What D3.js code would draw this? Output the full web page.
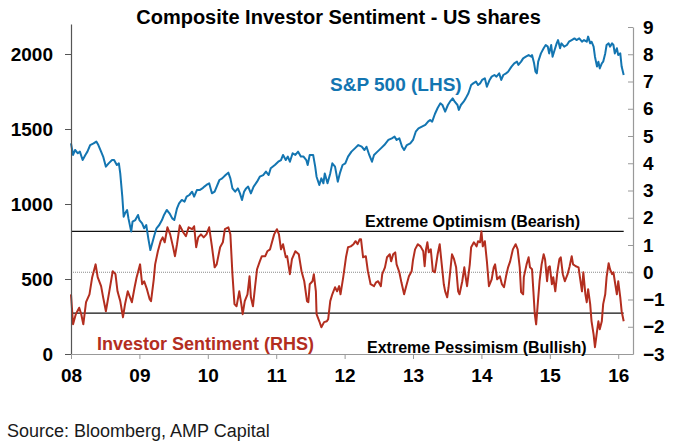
<!DOCTYPE html>
<html><head><meta charset="utf-8">
<script src="https://cdn.jsdelivr.net/npm/d3@7"></script>
<style>
body{margin:0;background:#fff;}
svg{display:block;font-family:"Liberation Sans",Arial,Helvetica,sans-serif;}
</style>
</head><body>
<svg id="chart" width="675" height="446"></svg>
<script>
// ---------- data ----------
const yearTicks = [2008, 2009, 2010, 2011, 2012, 2013, 2014, 2015, 2016];
const yearLabels = ["08", "09", "10", "11", "12", "13", "14", "15", "16"];
const leftTicks = [0, 500, 1000, 1500, 2000];
const rightTicks = [-3, -2, -1, 0, 1, 2, 3, 4, 5, 6, 7, 8, 9];
const extremeLevels = [1.5, -1.5];
const neutralLevel = 0;

// S&P 500 index level (LHS): [decimal year, value]
const spx = [
[2008.00,1404],[2008.03,1327],[2008.06,1360],[2008.10,1338],[2008.13,1349],[2008.17,1293],[2008.21,1327],[2008.24,1349],[2008.28,1393],[2008.33,1404],[2008.37,1416],[2008.40,1393],[2008.44,1349],[2008.47,1316],[2008.51,1249],[2008.55,1271],[2008.60,1293],[2008.63,1293],[2008.67,1260],[2008.70,1271],[2008.72,1204],[2008.75,1049],[2008.77,915],[2008.79,938],[2008.82,960],[2008.84,904],[2008.88,816],[2008.90,882],[2008.94,893],[2008.98,927],
[2009.00,893],[2009.04,871],[2009.07,838],[2009.10,860],[2009.13,771],[2009.16,693],[2009.18,727],[2009.22,793],[2009.25,838],[2009.29,860],[2009.33,893],[2009.36,927],[2009.40,960],[2009.44,938],[2009.48,904],[2009.51,893],[2009.55,971],[2009.58,1004],[2009.62,1027],[2009.66,1016],[2009.69,1049],[2009.73,1060],[2009.77,1082],[2009.80,1049],[2009.84,1093],[2009.88,1093],[2009.92,1104],[2009.95,1116],[2009.98,1127],
[2010.02,1138],[2010.06,1071],[2010.10,1082],[2010.13,1116],[2010.17,1160],[2010.21,1171],[2010.26,1193],[2010.30,1209],[2010.33,1171],[2010.36,1104],[2010.40,1082],[2010.44,1104],[2010.47,1071],[2010.50,1027],[2010.53,1082],[2010.56,1104],[2010.59,1116],[2010.63,1071],[2010.67,1116],[2010.72,1149],[2010.76,1182],[2010.81,1193],[2010.85,1216],[2010.89,1193],[2010.92,1238],[2010.98,1260],
[2011.03,1282],[2011.07,1293],[2011.10,1327],[2011.14,1293],[2011.17,1316],[2011.20,1282],[2011.24,1338],[2011.28,1327],[2011.32,1349],[2011.36,1316],[2011.40,1316],[2011.44,1293],[2011.46,1260],[2011.49,1327],[2011.54,1327],[2011.57,1249],[2011.59,1182],[2011.63,1127],[2011.66,1171],[2011.69,1138],[2011.71,1204],[2011.75,1138],[2011.79,1204],[2011.82,1271],[2011.86,1249],[2011.90,1149],[2011.93,1204],[2011.97,1260],
[2012.01,1271],[2012.05,1316],[2012.10,1349],[2012.15,1371],[2012.20,1393],[2012.25,1382],[2012.29,1360],[2012.32,1382],[2012.36,1327],[2012.40,1282],[2012.43,1327],[2012.48,1349],[2012.53,1371],[2012.58,1393],[2012.64,1427],[2012.69,1438],[2012.73,1449],[2012.76,1427],[2012.80,1438],[2012.84,1382],[2012.87,1360],[2012.91,1393],[2012.96,1404],
[2013.00,1427],[2013.04,1482],[2013.08,1504],[2013.13,1516],[2013.18,1527],[2013.22,1549],[2013.25,1560],[2013.28,1549],[2013.32,1600],[2013.36,1640],[2013.40,1671],[2013.43,1660],[2013.47,1616],[2013.51,1660],[2013.54,1682],[2013.58,1704],[2013.61,1682],[2013.65,1660],[2013.67,1627],[2013.70,1660],[2013.74,1682],[2013.77,1704],[2013.81,1738],[2013.85,1793],[2013.88,1804],[2013.92,1816],[2013.95,1793],[2013.98,1804],
[2014.01,1827],[2014.05,1838],[2014.08,1782],[2014.12,1827],[2014.15,1849],[2014.19,1860],[2014.22,1849],[2014.26,1871],[2014.29,1827],[2014.32,1860],[2014.36,1871],[2014.39,1882],[2014.44,1916],[2014.48,1938],[2014.52,1949],[2014.54,1927],[2014.58,1949],[2014.61,1971],[2014.65,1982],[2014.69,1993],[2014.73,1982],[2014.74,1993],[2014.77,1938],[2014.79,1882],[2014.81,1871],[2014.83,1949],[2014.87,2004],[2014.91,2038],[2014.94,2060],[2014.97,2049],[2014.99,2004],
[2015.02,2060],[2015.04,1982],[2015.07,2027],[2015.10,2071],[2015.12,2093],[2015.15,2038],[2015.17,2071],[2015.21,2049],[2015.25,2060],[2015.28,2082],[2015.32,2093],[2015.36,2104],[2015.39,2093],[2015.43,2104],[2015.47,2082],[2015.50,2093],[2015.54,2082],[2015.56,2116],[2015.59,2071],[2015.61,2082],[2015.64,2049],[2015.66,1982],[2015.69,1916],[2015.71,1949],[2015.73,1904],[2015.76,1938],[2015.78,1949],[2015.81,2004],[2015.83,2060],[2015.86,2071],[2015.88,2049],[2015.91,2071],[2015.93,2060],[2015.95,2004],[2015.98,2038],
[2016.00,1993],[2016.03,2004],[2016.05,1916],[2016.08,1860]
];

// Composite investor sentiment (RHS): [decimal year, value]
const sentiment = [
[2008.00,-0.81],[2008.03,-1.91],[2008.07,-1.54],[2008.12,-1.30],[2008.15,-1.54],[2008.18,-1.91],[2008.22,-1.10],[2008.27,-0.81],[2008.31,-0.18],[2008.36,0.29],[2008.39,-0.18],[2008.44,-0.51],[2008.47,-0.92],[2008.51,-1.43],[2008.56,-0.70],[2008.61,0.04],[2008.65,-0.07],[2008.68,-0.70],[2008.72,-1.06],[2008.76,-1.65],[2008.79,-1.17],[2008.83,-0.70],[2008.89,-1.10],[2008.93,-0.55],[2008.96,-0.18],
[2009.01,0.29],[2009.04,-0.44],[2009.07,-0.33],[2009.11,-0.62],[2009.15,-0.99],[2009.17,-1.06],[2009.21,-0.26],[2009.23,0.29],[2009.27,0.77],[2009.31,1.14],[2009.34,1.28],[2009.37,1.10],[2009.41,1.65],[2009.45,1.39],[2009.49,0.95],[2009.52,0.59],[2009.55,1.03],[2009.59,1.72],[2009.64,1.47],[2009.68,1.32],[2009.72,1.65],[2009.77,1.58],[2009.80,1.69],[2009.83,0.92],[2009.86,1.28],[2009.90,1.39],[2009.94,1.28],[2009.98,1.39],
[2010.02,1.65],[2010.06,0.95],[2010.10,0.18],[2010.13,0.29],[2010.18,0.92],[2010.22,1.10],[2010.25,1.58],[2010.30,1.65],[2010.33,1.39],[2010.36,-0.07],[2010.39,-1.17],[2010.42,-1.25],[2010.46,-0.70],[2010.49,-1.17],[2010.51,-1.54],[2010.54,-1.06],[2010.58,-0.81],[2010.61,-0.15],[2010.63,-0.92],[2010.66,-1.25],[2010.69,-0.55],[2010.72,0.11],[2010.76,0.40],[2010.79,0.59],[2010.84,0.59],[2010.87,0.77],[2010.91,0.84],[2010.93,1.03],[2010.97,1.39],
[2011.01,1.58],[2011.04,1.39],[2011.07,0.84],[2011.10,1.03],[2011.14,0.55],[2011.16,0.59],[2011.20,-0.07],[2011.23,0.48],[2011.28,0.77],[2011.33,0.66],[2011.37,0.04],[2011.41,-0.33],[2011.45,-1.06],[2011.47,-1.10],[2011.49,-0.44],[2011.53,-0.33],[2011.55,-0.07],[2011.58,-0.70],[2011.59,-1.54],[2011.63,-1.80],[2011.66,-2.02],[2011.70,-1.83],[2011.74,-1.80],[2011.76,-1.72],[2011.79,-1.06],[2011.82,-0.81],[2011.86,-0.55],[2011.89,-0.70],[2011.92,-0.51],[2011.94,-0.81],[2011.98,-0.18],
[2012.02,0.55],[2012.05,0.92],[2012.09,0.95],[2012.13,1.03],[2012.16,1.14],[2012.19,1.03],[2012.22,1.21],[2012.24,1.21],[2012.27,0.55],[2012.31,0.59],[2012.34,0.04],[2012.38,-0.44],[2012.43,-0.51],[2012.46,-0.37],[2012.49,-0.33],[2012.53,-0.51],[2012.55,-0.07],[2012.59,0.18],[2012.62,0.55],[2012.66,0.66],[2012.68,0.40],[2012.71,0.66],[2012.74,0.73],[2012.76,0.29],[2012.80,0.00],[2012.83,-0.37],[2012.87,-0.81],[2012.90,-0.51],[2012.94,-0.15],[2012.98,0.04],
[2013.00,0.45],[2013.03,0.84],[2013.07,1.03],[2013.11,0.95],[2013.15,0.77],[2013.17,0.22],[2013.19,0.84],[2013.21,1.10],[2013.23,0.73],[2013.26,0.84],[2013.29,0.04],[2013.32,0.00],[2013.36,0.66],[2013.39,1.03],[2013.42,0.29],[2013.45,-0.44],[2013.47,-0.70],[2013.50,-0.92],[2013.52,-0.55],[2013.55,0.18],[2013.57,0.66],[2013.60,0.48],[2013.63,0.18],[2013.66,-0.70],[2013.68,-0.81],[2013.72,-0.33],[2013.75,0.18],[2013.77,-0.18],[2013.79,-0.51],[2013.83,0.29],[2013.85,0.92],[2013.89,1.10],[2013.93,0.95],[2013.95,1.14],[2013.98,1.10],
[2014.00,1.50],[2014.02,0.95],[2014.05,1.14],[2014.08,0.40],[2014.11,-0.51],[2014.15,-0.26],[2014.18,0.18],[2014.20,0.29],[2014.23,-0.26],[2014.27,-0.15],[2014.30,-0.44],[2014.33,-0.55],[2014.36,-0.15],[2014.39,0.18],[2014.42,0.40],[2014.46,0.84],[2014.50,1.03],[2014.53,0.84],[2014.56,0.18],[2014.58,-0.73],[2014.61,-0.81],[2014.62,-0.18],[2014.66,0.29],[2014.69,0.55],[2014.71,0.18],[2014.74,0.11],[2014.76,-0.70],[2014.78,-1.54],[2014.80,-1.91],[2014.82,-1.28],[2014.85,-0.33],[2014.88,0.29],[2014.91,0.66],[2014.93,0.48],[2014.96,-0.33],[2014.98,0.18],
[2015.00,0.22],[2015.03,-0.44],[2015.05,-0.18],[2015.08,-0.70],[2015.11,0.00],[2015.14,0.48],[2015.16,0.55],[2015.19,-0.07],[2015.22,-0.33],[2015.26,-0.07],[2015.29,0.22],[2015.32,0.59],[2015.34,0.29],[2015.38,0.22],[2015.42,0.18],[2015.44,-0.18],[2015.47,-0.70],[2015.49,0.00],[2015.52,-0.81],[2015.54,-1.10],[2015.56,-0.62],[2015.59,-1.17],[2015.61,-1.80],[2015.64,-2.28],[2015.66,-2.75],[2015.69,-2.17],[2015.71,-1.80],[2015.73,-2.09],[2015.76,-1.80],[2015.78,-1.17],[2015.81,-0.81],[2015.83,-0.18],[2015.86,0.33],[2015.88,0.11],[2015.91,-0.07],[2015.93,0.00],[2015.95,-0.33],[2015.98,-0.81],
[2016.00,-0.33],[2016.03,-0.92],[2016.05,-1.43],[2016.08,-1.80]
];

// ---------- chart ----------
const left = 71, right = 633, bottom = 354;
const svg = d3.select("#chart");

const x = d3.scaleLinear().domain([2008, 2016.216]).range([left, right]);
const yL = d3.scaleLinear().domain([0, 2200]).range([bottom, 24]);
const yR = d3.scaleLinear().domain([-3, 9]).range([bottom, 27]);

const blue = "#1375b1";
const red = "#b32e1f";

// neutral dotted line
svg.append("line")
  .attr("x1", x(2008)).attr("x2", right)
  .attr("y1", yR(neutralLevel)).attr("y2", yR(neutralLevel))
  .attr("stroke", "#8a8a8a").attr("stroke-width", 1)
  .attr("stroke-dasharray", "1,1");

// extreme levels
const sentExtent = d3.extent(sentiment, d => d[0]);
svg.selectAll("line.extreme").data(extremeLevels).enter().append("line")
  .attr("class", "extreme")
  .attr("x1", x(sentExtent[0])).attr("x2", x(sentExtent[1]))
  .attr("y1", d => yR(d)).attr("y2", d => yR(d))
  .attr("stroke", "#111").attr("stroke-width", 1.2);

// S&P line
svg.append("path").datum(spx)
  .attr("fill", "none").attr("stroke", blue).attr("stroke-width", 2)
  .attr("stroke-linejoin", "round")
  .attr("d", d3.line().x(d => x(d[0])).y(d => yL(d[1])));

// sentiment line
svg.append("path").datum(sentiment)
  .attr("fill", "none").attr("stroke", red).attr("stroke-width", 2)
  .attr("stroke-linejoin", "round")
  .attr("d", d3.line().x(d => x(d[0])).y(d => yR(d[1])));

// axes
function styleAxis(g, lineColor) {
  g.select(".domain").attr("stroke", lineColor).attr("stroke-width", 1.2);
  g.selectAll(".tick line").attr("stroke", lineColor).attr("stroke-width", 1);
  g.selectAll(".tick text").attr("fill", "#000")
    .style("font-size", "19px").style("font-weight", "bold")
    .style("font-family", '"Liberation Sans", Arial, Helvetica, sans-serif');
}

const gL = svg.append("g").attr("transform", `translate(${left},0)`)
  .call(d3.axisLeft(yL).tickValues(leftTicks).tickFormat(d3.format("d"))
    .tickSizeInner(6).tickSizeOuter(0).tickPadding(12));
styleAxis(gL, "#555");

const gR = svg.append("g").attr("transform", `translate(${right},0)`)
  .call(d3.axisRight(yR).tickValues(rightTicks).tickFormat(d3.format("d"))
    .tickSizeInner(-5).tickSizeOuter(0).tickPadding(10));
styleAxis(gR, "#999");

const gX = svg.append("g").attr("transform", `translate(0,${bottom})`)
  .call(d3.axisBottom(x).tickValues(yearTicks).tickFormat((d, i) => yearLabels[i])
    .tickSizeInner(5).tickSizeOuter(0).tickPadding(10));
styleAxis(gX, "#999");

// title
svg.append("text").attr("x", 338.5).attr("y", 24).attr("text-anchor", "middle")
  .style("font-size", "20px").style("font-weight", "bold").attr("fill", "#000")
  .text("Composite Investor Sentiment - US shares");

// series labels
svg.append("text").attr("x", 330).attr("y", 91)
  .style("font-size", "19px").style("font-weight", "bold").attr("fill", blue)
  .text("S&P 500 (LHS)");
svg.append("text").attr("x", 97).attr("y", 350)
  .style("font-size", "18px").style("font-weight", "bold").attr("fill", red)
  .text("Investor Sentiment (RHS)");

// extreme labels
svg.append("text").attr("x", 365).attr("y", 227)
  .style("font-size", "16px").style("font-weight", "bold").attr("fill", "#000")
  .text("Extreme Optimism (Bearish)");
svg.append("text").attr("x", 367).attr("y", 353)
  .style("font-size", "16px").style("font-weight", "bold").attr("fill", "#000")
  .text("Extreme Pessimism (Bullish)");

// source
svg.append("text").attr("x", 7).attr("y", 437)
  .style("font-size", "18px").attr("fill", "#1a1a1a")
  .text("Source: Bloomberg, AMP Capital");
</script>
</body></html>
